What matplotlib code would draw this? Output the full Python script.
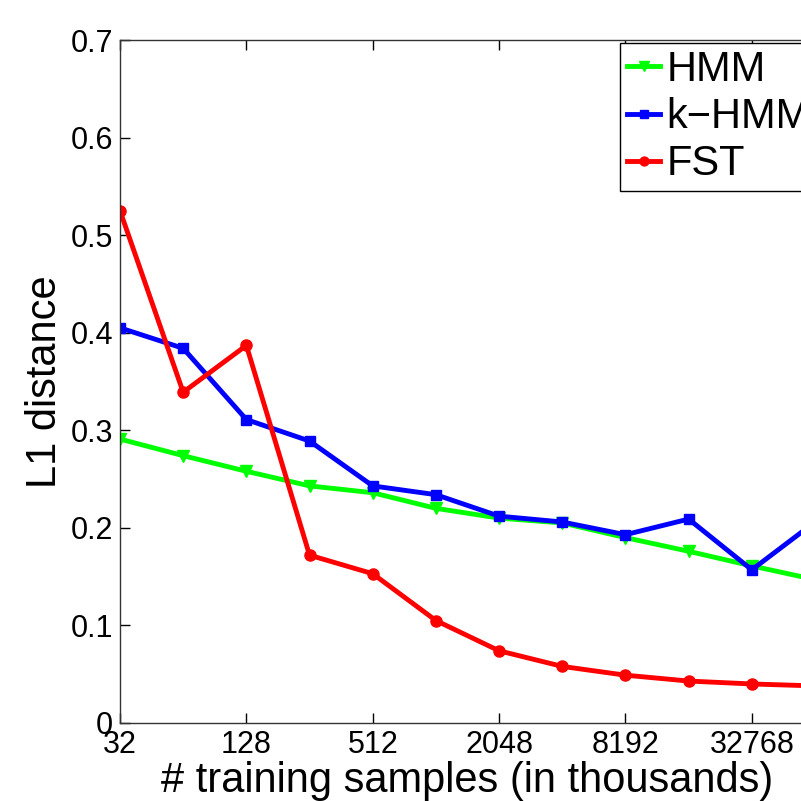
import matplotlib
matplotlib.use('Agg')
import matplotlib.pyplot as plt

plt.rcParams['font.family'] = ['Liberation Sans', 'DejaVu Sans']

# training samples (in thousands)
samples = [32, 64, 128, 256, 512, 1024, 2048, 4096, 8192, 16384, 32768, 65536]

hmm = [0.291, 0.274, 0.258, 0.243, 0.236, 0.220, 0.210, 0.205, 0.190, 0.176, 0.161, 0.147]
khmm = [0.405, 0.384, 0.311, 0.289, 0.243, 0.234, 0.212, 0.206, 0.193, 0.209, 0.157, 0.206]
fst = [0.525, 0.339, 0.387, 0.172, 0.153, 0.105, 0.074, 0.058, 0.049, 0.043, 0.040, 0.038]

xticks = [32, 128, 512, 2048, 8192, 32768]
yticks = [0, 0.1, 0.2, 0.3, 0.4, 0.5, 0.6, 0.7]

fig = plt.figure(figsize=(8.01, 8.01), dpi=100)
# axes run past the right edge (the original figure is cropped)
ax = fig.add_axes([120 / 801, 78 / 801, 695 / 801, 683 / 801])

ax.plot(samples, hmm, color='#00ff00', lw=3.5, marker='v', ms=9, label='HMM')
ax.plot(samples, khmm, color='#0000ff', lw=3.5, marker='s', ms=7, label='k\u2212HMM')
ax.plot(samples, fst, color='#ff0000', lw=3.5, marker='o', ms=8, label='FST')

ax.set_xscale('log', base=2)
ax.set_xlim(32, 65536)
ax.set_ylim(0, 0.7)
ax.set_xticks(xticks)
ax.set_xticklabels([str(t) for t in xticks])
ax.minorticks_off()
ax.set_yticks(yticks)
ax.set_yticklabels(['0', '0.1', '0.2', '0.3', '0.4', '0.5', '0.6', '0.7'])
ax.tick_params(direction='in', top=True, right=True, labelsize=22, length=7, width=1, colors='black')
ax.tick_params(axis='x', pad=5)
ax.tick_params(axis='y', pad=5)
for s in ax.spines.values():
    s.set_linewidth(1)
    s.set_color('#333333')

ax.set_xlabel('# training samples (in thousands)', fontsize=30, labelpad=1)
ax.set_ylabel('L1 distance', fontsize=30, labelpad=4)

leg = ax.legend(loc='upper left', bbox_to_anchor=(620 / 801, 758 / 801),
                bbox_transform=fig.transFigure, fontsize=30, fancybox=False,
                framealpha=1, edgecolor='black', handlelength=0.8,
                handletextpad=0.15, borderpad=0.17, labelspacing=0.17,
                borderaxespad=0, markerscale=0.8)
leg.get_frame().set_linewidth(1)

fig.savefig('out.png', dpi=100)
